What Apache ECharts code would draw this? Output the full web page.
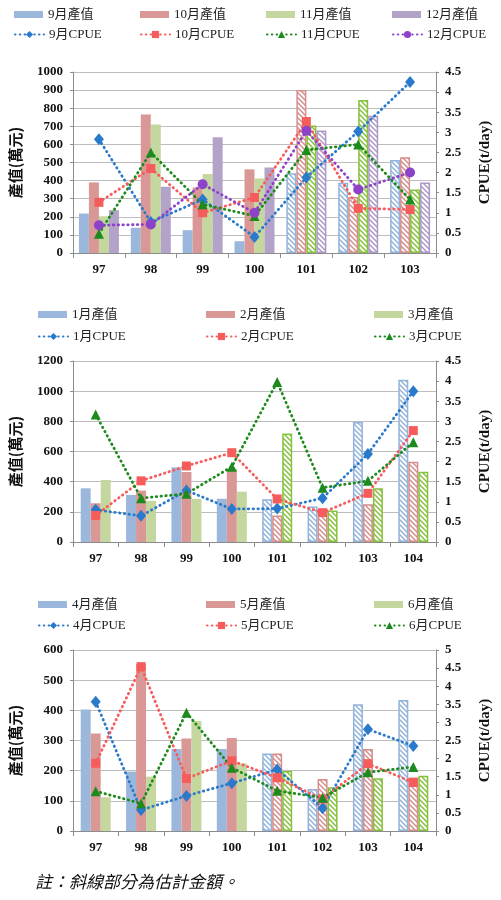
<!DOCTYPE html>
<html><head><meta charset="utf-8">
<script src="https://cdn.jsdelivr.net/npm/echarts@6/dist/echarts.min.js"></script>
<style>html,body{margin:0;padding:0;background:#fff}#c{width:501px;height:900px}</style>
</head><body><div id="c"></div>
<script>
// ---------- data ----------
const years1 = ['97','98','99','100','101','102','103'];
const years2 = ['97','98','99','100','101','102','103','104'];

// panel 1 : 9-12月
const months1 = ['9月','10月','11月','12月'];
const val9  = [218, 139, 126, 65, 440, 388, 514];
const val10 = [390, 765, 362, 462, 900, 310, 529];
const val11 = [203, 710, 436, 412, 704, 845, 351];
const val12 = [237, 366, 640, 473, 677, 758, 390];
const cpue9  = [2.83, 0.77, 1.33, 0.40, 1.88, 3.02, 4.25];
const cpue10 = [1.26, 2.10, 1.00, 1.38, 3.27, 1.11, 1.08];
const cpue11 = [0.48, 2.50, 1.21, 0.92, 2.56, 2.70, 1.33];
const cpue12 = [0.69, 0.71, 1.71, 1.00, 3.04, 1.58, 2.00];

// panel 2 : 1-3月
const months2 = ['1月','2月','3月'];
const val1 = [356, 312, 495, 287, 284, 235, 796, 1075];
const val2 = [257, 341, 464, 484, 176, 213, 250, 532];
const val3 = [411, 273, 285, 334, 719, 209, 356, 466];
const cpue1 = [0.80, 0.65, 1.28, 0.82, 0.83, 1.09, 2.19, 3.75];
const cpue2 = [0.66, 1.52, 1.89, 2.22, 1.07, 0.73, 1.21, 2.77];
const cpue3 = [3.17, 1.09, 1.20, 1.87, 3.98, 1.35, 1.52, 2.48];

// panel 3 : 4-6月
const months3 = ['4月','5月','6月'];
const val4 = [403, 197, 272, 272, 257, 139, 420, 434];
const val5 = [323, 554, 307, 308, 257, 172, 272, 177];
const val6 = [112, 180, 365, 224, 199, 145, 175, 183];
const cpue4 = [3.57, 0.58, 0.97, 1.32, 1.70, 0.63, 2.81, 2.35];
const cpue5 = [1.87, 4.54, 1.45, 1.94, 1.47, 0.88, 1.86, 1.34];
const cpue6 = [1.10, 0.76, 3.27, 1.75, 1.11, 0.92, 1.62, 1.77];

// axis ranges
const leftMax = [1000, 1200, 600];
const leftInterval = [100, 200, 100];
const rightMax = [4.5, 4.5, 5];
const rightInterval = [0.5, 0.5, 0.5];
const estimatedFrom = '101'; // hatched (estimated) from this year on

const valueName = '產值';
const cpueName = 'CPUE';
const leftAxisName = '產值(萬元)';
const rightAxisName = 'CPUE(t/day)';
const noteText = '註：斜線部分為估計金額。';

// ---------- styles ----------
const barColor   = ['#9bb8dc', '#d99795', '#c4d79f', '#b4a3c8'];
const hatchColor = ['#93b3da', '#d68e8c', '#86c13e', '#ab98c6'];
const lineColor  = ['#2a7acb', '#f75c5c', '#1d8a1d', '#8c43c9'];
const symbols    = ['diamond', 'rect', 'triangle', 'circle'];
const symSizes   = [[10,12], 9, 10, 10];
const serif = '"Liberation Serif","Times New Roman","Noto Sans CJK TC",serif';

function hatch(color){
  const s = 5;
  const c = document.createElement('canvas'); c.width = s; c.height = s;
  const g = c.getContext('2d');
  g.fillStyle = '#fff'; g.fillRect(0,0,s,s);
  g.strokeStyle = color; g.lineWidth = 1.5;
  g.beginPath();
  g.moveTo(-1,-1); g.lineTo(s+1,s+1);
  g.moveTo(-1,s-1); g.lineTo(1,s+1);
  g.moveTo(s-1,-1); g.lineTo(s+1,1);
  g.stroke();
  return {image: c, repeat: 'repeat'};
}

const panels = [
  {years: years1, months: months1, vals: [val9,val10,val11,val12], cpues: [cpue9,cpue10,cpue11,cpue12],
   top: 72, legLefts: [14,140,266,392], legRows: [16,36]},
  {years: years2, months: months2, vals: [val1,val2,val3], cpues: [cpue1,cpue2,cpue3],
   top: 361, legLefts: [38,206,374], legRows: [316,338]},
  {years: years2, months: months3, vals: [val4,val5,val6], cpues: [cpue4,cpue5,cpue6],
   top: 650, legLefts: [38,206,374], legRows: [606,627]}
];

const grid = [], xAxis = [], yAxis = [], series = [], legend = [];
const legText = {fontFamily: serif, fontSize: 13, color: '#222'};

panels.forEach((p, gi) => {
  grid.push({left: 72, right: 61, top: p.top, height: 181});
  xAxis.push({
    type: 'category', gridIndex: gi, data: p.years,
    axisLine: {lineStyle: {color: '#8c8c8c'}},
    axisTick: {show: true, interval: 0, length: 5, lineStyle: {color: '#8c8c8c'}},
    axisLabel: {fontFamily: serif, fontWeight: 'bold', fontSize: 13, color: '#111', margin: 10, interval: 0}
  });
  yAxis.push({
    type: 'value', gridIndex: gi, min: 0, max: leftMax[gi], interval: leftInterval[gi],
    name: leftAxisName, nameLocation: 'middle', nameRotate: 90, nameGap: 50,
    nameTextStyle: {fontFamily: '"Noto Sans CJK TC",sans-serif', fontWeight: 'bold', fontSize: 15, color: '#111'},
    axisLine: {show: true, lineStyle: {color: '#8c8c8c'}},
    axisTick: {show: true, length: 3, lineStyle: {color: '#8c8c8c'}},
    splitLine: {lineStyle: {color: '#bdbdbd'}},
    axisLabel: {fontFamily: serif, fontWeight: 'bold', fontSize: 13, color: '#111', margin: 10,
      formatter: v => String(v)}
  });
  yAxis.push({
    type: 'value', gridIndex: gi, position: 'right', min: 0, max: rightMax[gi], interval: rightInterval[gi],
    name: rightAxisName, nameLocation: 'middle', nameRotate: 90, nameGap: 42,
    nameTextStyle: {fontFamily: serif, fontWeight: 'bold', fontSize: 15, color: '#111'},
    axisLine: {show: true, lineStyle: {color: '#8c8c8c'}},
    axisTick: {show: true, length: 3, lineStyle: {color: '#8c8c8c'}},
    splitLine: {show: false},
    axisLabel: {fontFamily: serif, fontWeight: 'bold', fontSize: 13, color: '#111', margin: 9,
      formatter: v => String(v)}
  });
  const hFrom = p.years.indexOf(estimatedFrom);
  p.months.forEach((m, k) => {
    const barName = m + valueName, lineName = m + cpueName;
    series.push({
      type: 'bar', name: barName, xAxisIndex: gi, yAxisIndex: gi*2,
      barWidth: 10, barGap: '0%',
      itemStyle: {color: barColor[k]},
      data: p.vals[k].map((v, i) => i >= hFrom ?
        {value: v, itemStyle: {color: hatch(hatchColor[k]), borderColor: hatchColor[k], borderWidth: 1.5}} : v),
      z: 2
    });
    series.push({
      type: 'line', name: lineName, xAxisIndex: gi, yAxisIndex: gi*2+1,
      symbol: symbols[k], symbolSize: symSizes[k],
      itemStyle: {color: lineColor[k]},
      lineStyle: {type: [0.5, 4.3], width: 2.8, color: lineColor[k], cap: 'round'},
      data: p.cpues[k], z: 5
    });
    legend.push({data: [barName], left: p.legLefts[k], top: p.legRows[0] - 8, padding: 0,
      icon: 'rect', itemWidth: 29, itemHeight: 7, selectedMode: false, textStyle: legText});
    legend.push({data: [lineName], left: p.legLefts[k], top: p.legRows[1] - 8, padding: 0,
      itemWidth: 29, itemHeight: 9, selectedMode: false, textStyle: legText});
  });
});

const chart = echarts.init(document.getElementById('c'), null, {renderer: 'canvas'});
chart.setOption({
  animation: false,
  backgroundColor: '#fff',
  grid, xAxis, yAxis, series, legend,
  graphic: [{type: 'text', left: 35, top: 873,
    style: {text: noteText, font: 'italic 17px "Noto Sans CJK TC",sans-serif', fill: '#111'}}]
});
</script></body></html>
